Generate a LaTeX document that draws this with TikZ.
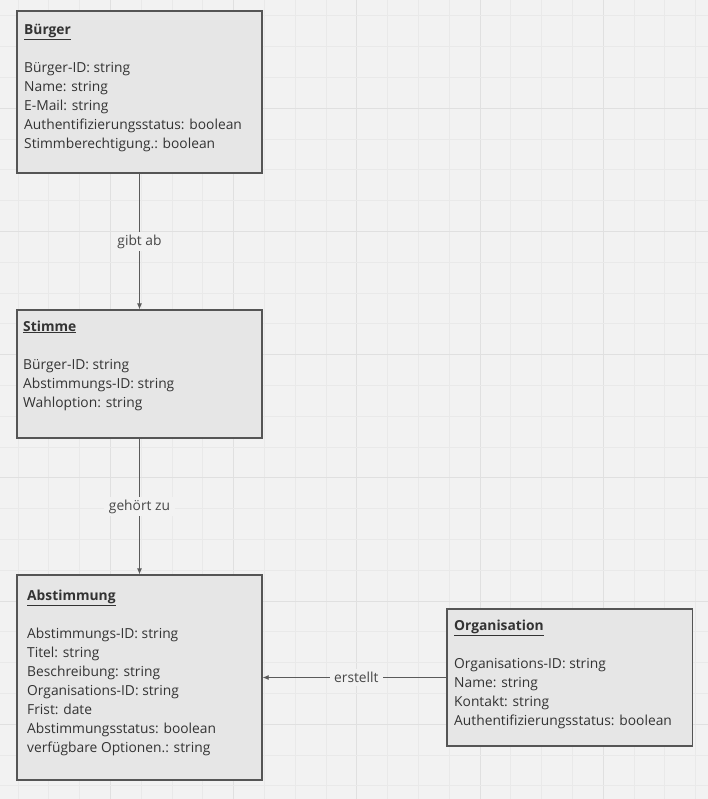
\documentclass[tikz,border=0pt]{standalone}
\usepackage{fontspec}
\setmainfont{Open Sans}
\usetikzlibrary{arrows.meta}

\definecolor{canvas}{HTML}{F2F2F2}
\definecolor{gridminor}{HTML}{E9E9E9}
\definecolor{gridmajor}{HTML}{E0E0E0}
\definecolor{boxfill}{HTML}{E6E6E6}
\definecolor{boxline}{HTML}{555555}
\definecolor{ink}{HTML}{333333}
\definecolor{wire}{HTML}{5A5A5A}

\tikzset{
  entity/.style={draw=boxline, line width=1.3pt, fill=boxfill, rectangle,
    minimum width=245pt, inner sep=0pt},
  title/.style={anchor=base west, inner sep=0pt, text=ink,
    font=\fontsize{13.8}{19}\selectfont\bfseries},
  attr/.style={anchor=base west, inner sep=0pt, text=ink,
    font=\fontsize{13.8}{19}\selectfont},
  relation/.style={draw=wire, line width=0.8pt, -{Latex[length=6pt,width=5pt]}},
  rellabel/.style={fill=canvas, text=ink!90!white, inner xsep=4.5pt, inner ysep=3pt,
    font=\fontsize{13.8}{19}\selectfont}
}

\begin{document}
\begin{tikzpicture}[x=1pt, y=-1pt]
  % canvas and grid
  \fill[canvas] (0,0) rectangle (708,799);
  \useasboundingbox (0,0) rectangle (708,799);
  \foreach \k in {0,...,24} {
    \pgfmathsetmacro{\gx}{-12.7+30.8*\k}
    \pgfmathtruncatemacro{\major}{mod(\k,4)==0}
    \ifnum\major=1
      \draw[gridmajor, line width=1pt] (\gx,0) -- (\gx,799);
    \else
      \draw[gridminor, line width=0.9pt] (\gx,0) -- (\gx,799);
    \fi
  }
  \foreach \k in {0,...,27} {
    \pgfmathsetmacro{\gy}{-14.9+30.8*\k}
    \pgfmathtruncatemacro{\major}{mod(\k,4)==0}
    \ifnum\major=1
      \draw[gridmajor, line width=1pt] (0,\gy) -- (708,\gy);
    \else
      \draw[gridminor, line width=0.9pt] (0,\gy) -- (708,\gy);
    \fi
  }

  % entities
  \node[entity, minimum height=162pt] (buerger) at (139.5,92) {};
  \node[entity, minimum height=128pt] (stimme) at (139.5,374) {};
  \node[entity, minimum height=205pt] (abst) at (139.5,677.5) {};
  \node[entity, minimum width=245.5pt, minimum height=137pt] (org) at (569.75,677.5) {};

  % Bürger
  \node[title] (buerger-t) at (24,34.5) {\underline{Bürger}};
  \foreach \t [count=\i] in {Bürger-ID: string, Name: string, E-Mail: string,
      Authentifizierungsstatus: boolean, Stimmberechtigung.: boolean}
    \node[attr] (buerger-a\i) at (24,{72.5+19*(\i-1)}) {\t};

  % Stimme
  \node[title] (stimme-t) at (23,331) {\underline{Stimme}};
  \foreach \t [count=\i] in {Bürger-ID: string, Abstimmungs-ID: string, Wahloption: string}
    \node[attr] (stimme-a\i) at (23,{369+19*(\i-1)}) {\t};

  % Abstimmung
  \node[title] (abst-t) at (27,600) {\underline{Abstimmung}};
  \foreach \t [count=\i] in {Abstimmungs-ID: string, Titel: string, Beschreibung: string,
      Organisations-ID: string, Frist: date, Abstimmungsstatus: boolean,
      verfügbare Optionen.: string}
    \node[attr] (abst-a\i) at (27,{638+19*(\i-1)}) {\t};

  % Organisation
  \node[title] (org-t) at (454,630) {\underline{Organisation}};
  \foreach \t [count=\i] in {Organisations-ID: string, Name: string, Kontakt: string,
      Authentifizierungsstatus: boolean}
    \node[attr] (org-a\i) at (454,{668+19*(\i-1)}) {\t};

  % relations
  \draw[relation] (buerger.south) -- node[rellabel] {gibt ab} (stimme.north);
  \draw[relation] (stimme.south) -- node[rellabel] {gehört zu} (abst.north);
  \draw[relation] (org.west) -- node[rellabel, pos=0.49] {erstellt} (abst.east);
\end{tikzpicture}
\end{document}
